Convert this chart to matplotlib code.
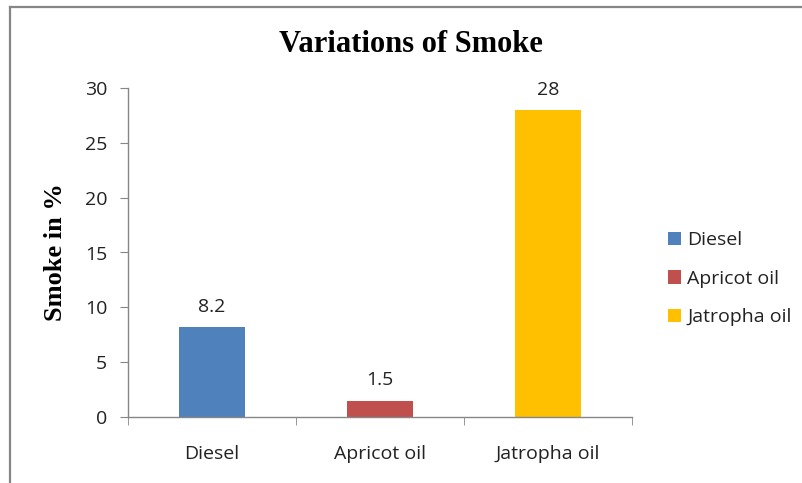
import matplotlib.pyplot as plt
from matplotlib.lines import Line2D

fuels = ["Diesel", "Apricot oil", "Jatropha oil"]
smoke = [8.2, 1.5, 28]
colors = ["#4f81bd", "#c0504d", "#ffc000"]

TXT = "#222222"
GRID = "#868686"

fig = plt.figure(figsize=(8.02, 4.83), dpi=100)
ax = fig.add_axes([128 / 802, 66 / 483, 504 / 802, 329 / 483])

x = range(len(fuels))
for i, (name, val, c) in enumerate(zip(fuels, smoke, colors)):
    ax.bar(i, val, width=0.39, color=c, label=name, zorder=2)
    ax.annotate(f"{val:g}", (i, val), xytext=(0, 11), textcoords="offset points",
                ha="center", va="baseline", fontsize=14, family="Open Sans",
                color=TXT)

ax.set_xlim(-0.5, 2.5)
ax.set_ylim(0, 30)
ax.set_yticks(range(0, 31, 5))
ax.set_xticks(list(x))
ax.set_xticklabels(fuels)
ax.set_xticks([-0.5, 0.5, 1.5, 2.5], minor=True)
ax.tick_params(axis="x", which="major", length=0, pad=20)
ax.tick_params(axis="x", which="minor", length=6, color=GRID, direction="out")
ax.tick_params(axis="y", length=6, color=GRID, pad=9)
for lab in ax.get_xticklabels() + ax.get_yticklabels():
    lab.set_family("Open Sans")
    lab.set_fontsize(14)
    lab.set_color(TXT)

for side in ("top", "right"):
    ax.spines[side].set_visible(False)
for side in ("left", "bottom"):
    ax.spines[side].set_color(GRID)
    ax.spines[side].set_linewidth(1.0)

ax.set_ylabel("Smoke in %", family="Liberation Serif", fontweight="bold",
              fontsize=19, va="center")
ax.yaxis.set_label_coords(-72 / 504, 0.5)
fig.text(411 / 802, 1 - 45 / 483, "Variations of Smoke", ha="center", va="center",
         family="Liberation Serif", fontweight="bold", fontsize=22)

leg = ax.legend(loc="center left", bbox_to_anchor=(1.036, 0.42), frameon=False,
                prop={"family": "Open Sans", "size": 14}, handlelength=0.7,
                handleheight=0.7, handletextpad=0.3, labelspacing=1.05)
for t in leg.get_texts():
    t.set_color(TXT)

# outer frame of the chart area
fx, fy = 10 / 802, 1 - 7 / 483
fig.add_artist(Line2D([fx, fx], [0, fy], transform=fig.transFigure,
                      color=GRID, lw=1.6))
fig.add_artist(Line2D([fx, 1], [fy, fy], transform=fig.transFigure,
                      color=GRID, lw=1.6))

fig.savefig("out.png", dpi=100)
